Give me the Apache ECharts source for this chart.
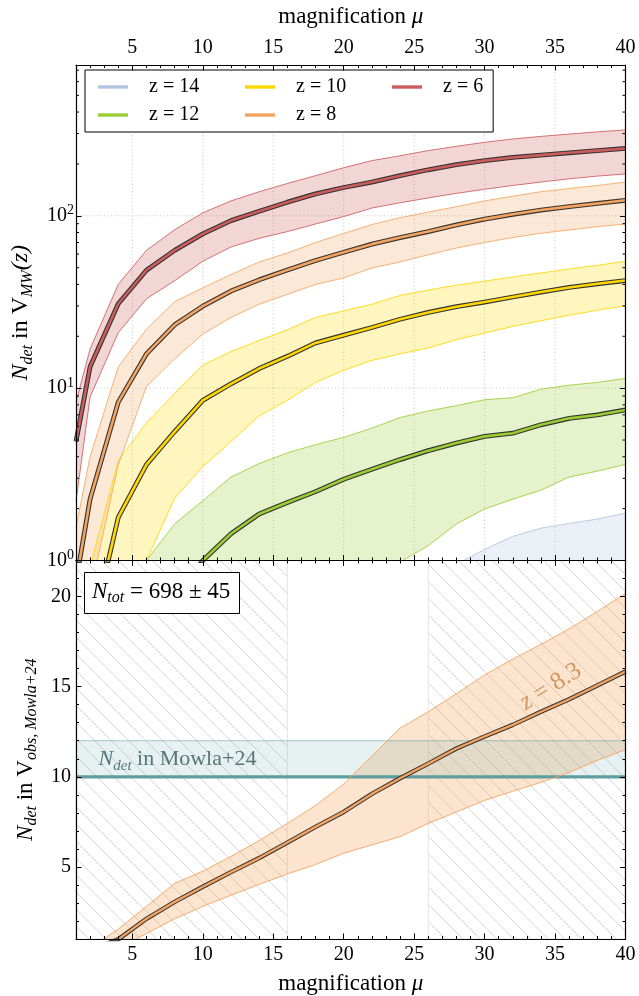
<!DOCTYPE html>
<html><head><meta charset="utf-8">
<script src="https://cdn.jsdelivr.net/npm/echarts@6/dist/echarts.min.js"></script>
<style>html,body{margin:0;padding:0;background:#fff}#c{width:639px;height:996px}</style>
</head><body><div id="c"></div>
<script>
// ---------------- data ----------------
const mu = [1,2,4,6,8,10,12,14,16,18,20,22,24,26,28,30,32,34,36,38,40];

const z6Mid = [4.9,13.3,30.9,48.3,63,78.5,93.8,106.4,120,134,146,157,171,185,198,209,218,225,232,239,246];
const z6Hi  = [8.3,16.9,40,63,83,104,122,138,154,171,190,209,223,239,253,267,279,289,298,307,315];
const z6Lo  = [2.2,8.9,21,33,42,54.5,66,74,81,89.6,99,111,119,127,135,142.5,150,157,164,170,175];

const z8Mid = [0.75,2.27,8.3,15.8,23.3,29.9,36.6,42.5,48.5,55,61.5,68.5,74.8,81,88.5,95.7,102,108,113,118,123];
const z8Hi  = [1.56,4.0,13.3,22,31.7,38.2,45.6,54,60.8,70,79,89,97.5,105,113,122,130,138,144,150,157];
const z8Lo  = [0.35,0.65,3.6,10.2,14.8,20.6,25.7,30.7,35,40,43.6,49.8,54,59.4,65,70,74.8,79.2,82.8,86.5,89.6];

const z10Mid = [0.15,0.35,1.78,3.6,5.6,8.5,10.6,13,15.3,18.3,20.3,22.5,25.1,27.5,29.7,31.6,33.8,36.1,38.4,40.3,42.1];
const z10Hi  = [0.46,0.92,3.8,6.3,9.3,13.6,16.3,18.9,21.8,25.7,28.1,30.7,34.5,37.1,39.6,41.8,44.2,46.6,49.2,51.6,54.5];
const z10Lo  = [0.05,0.1,0.4,1.0,2.3,3.5,4.9,6.9,8.5,10.8,12.7,14.5,15.8,17.1,19.1,20.9,22.8,24.6,26.5,28.3,30];

const z12Mid = [0.02,0.04,0.1,0.25,0.6,1.0,1.43,1.86,2.17,2.51,2.96,3.38,3.85,4.34,4.8,5.25,5.48,6.13,6.68,6.99,7.47];
const z12Hi  = [0.1,0.2,0.5,1.0,1.63,2.22,3.05,3.65,4.21,4.7,5.18,5.86,6.75,7.38,7.91,8.57,8.8,9.87,10.4,10.8,11.4];
const z12Lo  = [0.005,0.01,0.02,0.04,0.08,0.12,0.2,0.3,0.4,0.5,0.65,0.8,0.98,1.22,1.63,1.99,2.27,2.56,3.05,3.3,3.61];

const z14Mid = [0.002,0.004,0.008,0.015,0.025,0.035,0.05,0.07,0.09,0.11,0.14,0.17,0.2,0.24,0.28,0.33,0.38,0.43,0.48,0.52,0.56];
const z14Hi  = [0.01,0.02,0.04,0.07,0.1,0.15,0.2,0.28,0.35,0.45,0.55,0.65,0.75,0.85,0.95,1.16,1.38,1.54,1.64,1.74,1.88];
const z14Lo  = [0.0004,0.0008,0.0015,0.003,0.005,0.007,0.01,0.014,0.018,0.022,0.028,0.034,0.04,0.048,0.056,0.066,0.076,0.086,0.096,0.104,0.112];

const obsMid = [0.1,0.4,0.98,2.12,3.06,3.9,4.71,5.49,6.35,7.22,8.05,9.05,9.92,10.73,11.57,12.24,12.88,13.61,14.3,15.07,15.84];
const obsHi  = [0.2,0.5,1.55,2.81,4.09,4.76,5.58,6.46,7.41,8.41,9.6,11.15,12.7,13.61,14.61,15.65,16.53,17.35,18.21,19.17,20.18];
const obsLo  = [0.02,0.1,0.5,1.3,2.12,2.81,3.43,4.03,4.61,5.13,5.76,6.22,6.68,7.41,8.05,8.69,9.2,9.69,10.24,10.91,11.51];

const mowlaBand = [10, 12];           // N_det in Mowla+24 (value, upper)
const hatchSpans = [[1,16],[26,40]];  // hatched magnification ranges
const z83LabelAt = [34.7, 15.0];
const mowlaLabelAt = [2.6, 10.96];

// ticks
const xMajorTicks = [5,10,15,20,25,30,35,40];
const xMinorTicks = [1,2,3,4,5,6,7,8,9,10,11,12,13,14,15,16,17,18,19,20,21,22,23,24,25,26,27,28,29,30,31,32,33,34,35,36,37,38,39,40];
const xGridValues = [5,10,15,20,25,30,35];
const yLogGridValues = [10,100];
const yLogMinorTicks = [2,3,4,5,6,7,8,9,20,30,40,50,60,70,80,90,200,300,400,500,600,700];
const yLinMajorTicks = [5,10,15,20];
const yLinMinorTicks = [1,2,3,4,5,6,7,8,9,10,11,12,13,14,15,16,17,18,19,20,21,22];

const X_MIN = 1, X_MAX = 40, YT_MIN = 1, YT_MAX = 750, YB_MIN = 1, YB_MAX = 22;

// ---------------- styling ----------------
const F = 'Liberation Serif';
const C = {z14:'#b0c4de', z12:'#9acd32', z10:'#ffd700', z8:'#f4a460', z6:'#cd5c5c'};
function rgba(hex, a){const n=parseInt(hex.slice(1),16);return 'rgba('+(n>>16)+','+((n>>8)&255)+','+(n&255)+','+a+')';}

function richSet(size, color){
  color = color || '#000';
  const sub = Math.round(size*0.68);
  return {
    n:{fontFamily:F, fontWeight:'normal', fontSize:size, lineHeight:size+6, verticalAlign:'middle', color},
    i:{fontFamily:F, fontWeight:'normal', fontStyle:'italic', fontSize:size, lineHeight:size+6, verticalAlign:'middle', color},
    s:{fontFamily:F, fontWeight:'normal', fontStyle:'italic', fontSize:sub, lineHeight:sub, verticalAlign:'bottom', color}
  };
}

// hatch pattern
const hatch = document.createElement('canvas');
hatch.width = 17; hatch.height = 17;
(function(){const g=hatch.getContext('2d');g.strokeStyle='#d6d6d6';g.lineWidth=1;
 [-17,0,17].forEach(o=>{g.beginPath();g.moveTo(o-3,-3);g.lineTo(o+20,20);g.stroke();});})();

function pairs(ys){ return mu.map((x,i)=>[x, ys[i]]); }
function band(lo, hi, fill, xi, yi, z){
  return {type:'custom', xAxisIndex:xi, yAxisIndex:yi, z, silent:true, clip:true,
    data:[[mu[0], hi[0]]],
    renderItem:(params, api)=>{
      const pts=[];
      for(let i=0;i<mu.length;i++) pts.push(api.coord([mu[i], hi[i]]));
      for(let i=mu.length-1;i>=0;i--) pts.push(api.coord([mu[i], lo[i]]));
      return {type:'polygon', shape:{points:pts}, style:{fill}};
    }};
}
function line(name, ys, color, width, xi, yi, z, opacity){
  return {type:'line', name, xAxisIndex:xi, yAxisIndex:yi, data:pairs(ys), symbol:'none', showSymbol:false,
    z, silent:true, clip:true, lineStyle:{color, width, opacity:opacity==null?1:opacity, join:'round'},
    itemStyle:{color}, emphasis:{disabled:true}};
}

const series = [];
// top grid lines
series.push({type:'custom', xAxisIndex:0, yAxisIndex:0, z:0, silent:true, data:xGridValues.map(v=>[v]),
  renderItem:(p,api)=>{const a=api.coord([api.value(0),YT_MAX]), b=api.coord([api.value(0),YT_MIN]);
    return {type:'line', shape:{x1:a[0],y1:a[1],x2:b[0],y2:b[1]}, style:{stroke:'#c4c4c4',lineWidth:1,lineDash:[1,2.5]}};}});
series.push({type:'custom', xAxisIndex:0, yAxisIndex:0, z:0, silent:true, data:yLogGridValues.map(v=>[X_MIN,v]),
  renderItem:(p,api)=>{const a=api.coord([X_MIN,api.value(1)]), b=api.coord([X_MAX,api.value(1)]);
    return {type:'line', shape:{x1:a[0],y1:a[1],x2:b[0],y2:b[1]}, style:{stroke:'#c4c4c4',lineWidth:1,lineDash:[1,2.5]}};}});

const groups = [
  ['z = 14', z14Lo, z14Mid, z14Hi, C.z14],
  ['z = 12', z12Lo, z12Mid, z12Hi, C.z12],
  ['z = 10', z10Lo, z10Mid, z10Hi, C.z10],
  ['z = 8',  z8Lo,  z8Mid,  z8Hi,  C.z8],
  ['z = 6',  z6Lo,  z6Mid,  z6Hi,  C.z6]
];
groups.forEach(g=>{ series.push(band(g[1], g[3], rgba(g[4],0.25), 0, 0, 1)); });
groups.forEach(g=>{
  series.push(line(g[0]+' hi', g[3], g[4], 1, 0, 0, 2, 0.85));
  series.push(line(g[0]+' lo', g[1], g[4], 1, 0, 0, 2, 0.85));
});
groups.forEach(g=>{
  series.push(line(g[0]+' edge', g[2], '#333', 4.8, 0, 0, 3));
  series.push(line(g[0], g[2], g[4], 2.6, 0, 0, 4));
});
// log minor ticks
series.push({type:'custom', xAxisIndex:0, yAxisIndex:0, z:12, silent:true, clip:false,
  data:yLogMinorTicks.map(v=>[X_MIN,v]),
  renderItem:(p,api)=>{const q=api.coord([X_MIN,api.value(1)]); const cs=p.coordSys;
    return {type:'group', children:[
      {type:'line', shape:{x1:cs.x,y1:q[1],x2:cs.x+3,y2:q[1]}, style:{stroke:'#000',lineWidth:1}},
      {type:'line', shape:{x1:cs.x+cs.width,y1:q[1],x2:cs.x+cs.width-3,y2:q[1]}, style:{stroke:'#000',lineWidth:1}}]};}});

// bottom panel
series.push({type:'custom', xAxisIndex:4, yAxisIndex:2, z:1, silent:true, data:hatchSpans,
  renderItem:(p,api)=>{const a=api.coord([api.value(0),YB_MAX]), b=api.coord([api.value(1),YB_MIN]);
    return {type:'rect', shape:{x:a[0],y:a[1],width:b[0]-a[0],height:b[1]-a[1]}, style:{fill:{image:hatch,repeat:'repeat'}, stroke:'#e6e6e6', lineWidth:1}};}});
series.push(band(obsLo, obsHi, rgba(C.z8,0.3), 4, 2, 2));
series.push({type:'custom', xAxisIndex:4, yAxisIndex:2, z:3, silent:true, data:[mowlaBand],
  renderItem:(p,api)=>{const a=api.coord([X_MIN,api.value(1)]), b=api.coord([X_MAX,api.value(0)]);
    return {type:'group', children:[
      {type:'rect', shape:{x:a[0],y:a[1],width:b[0]-a[0],height:b[1]-a[1]}, style:{fill:'rgba(95,158,160,0.15)'}},
      {type:'line', shape:{x1:a[0],y1:a[1],x2:b[0],y2:a[1]}, style:{stroke:'rgba(95,158,160,0.55)',lineWidth:1}},
      {type:'line', shape:{x1:a[0],y1:b[1],x2:b[0],y2:b[1]}, style:{stroke:'#5f9ea0',lineWidth:3.2}}]};}});
series.push(line('obs hi', obsHi, C.z8, 1, 4, 2, 4, 0.9));
series.push(line('obs lo', obsLo, C.z8, 1, 4, 2, 4, 0.9));
series.push(line('obs edge', obsMid, '#333', 4.4, 4, 2, 5));
series.push(line('obs mid', obsMid, C.z8, 2.4, 4, 2, 6));
series.push({type:'scatter', xAxisIndex:4, yAxisIndex:2, z:8, silent:true, symbolSize:1, itemStyle:{color:'rgba(0,0,0,0)'},
  data:[z83LabelAt],
  label:{show:true, position:'inside', rotate:32, align:'center', verticalAlign:'middle',
    formatter:'{i|z}{n| = 8.3}', rich:richSet(25,'#c8823e')}});
series.push({type:'scatter', xAxisIndex:4, yAxisIndex:2, z:8, silent:true, symbolSize:1, itemStyle:{color:'rgba(0,0,0,0)'},
  data:[mowlaLabelAt],
  label:{show:true, position:'inside', align:'left', verticalAlign:'middle',
    formatter:'{i|N}{s|det}{n| in Mowla+24}', rich:richSet(22,'#2f5757')}});

// ---------------- axes ----------------
const AL = {show:true, onZero:false, lineStyle:{color:'#000', width:1.2}};
const TS = {color:'#000', width:1};
const baseX = {type:'value', min:X_MIN, max:X_MAX, splitLine:{show:false}, z:10};
const xLabel = {customValues:xMajorTicks, fontFamily:F, fontSize:20, color:'#000'};
const xName = '{n|magnification }{i|μ}';
const xAxis = [
  Object.assign({}, baseX, {gridIndex:0, position:'top', axisLine:AL,
    axisTick:{inside:true, length:5.5, customValues:xMajorTicks, lineStyle:TS},
    axisLabel:Object.assign({margin:7}, xLabel),
    name:xName, nameLocation:'middle', nameGap:34, nameTextStyle:{rich:richSet(23)}}),
  Object.assign({}, baseX, {gridIndex:0, position:'top', axisLine:{show:false},
    axisTick:{inside:true, length:3, customValues:xMinorTicks, lineStyle:TS}, axisLabel:{show:false}}),
  Object.assign({}, baseX, {gridIndex:0, position:'bottom', axisLine:AL,
    axisTick:{inside:true, length:5.5, customValues:xMajorTicks, lineStyle:TS}, axisLabel:{show:false}}),
  Object.assign({}, baseX, {gridIndex:0, position:'bottom', axisLine:{show:false},
    axisTick:{inside:true, length:3, customValues:xMinorTicks, lineStyle:TS}, axisLabel:{show:false}}),
  Object.assign({}, baseX, {gridIndex:1, position:'bottom', axisLine:AL,
    axisTick:{inside:true, length:5.5, customValues:xMajorTicks, lineStyle:TS},
    axisLabel:Object.assign({margin:6}, xLabel),
    name:xName, nameLocation:'middle', nameGap:30, nameTextStyle:{rich:richSet(23)}}),
  Object.assign({}, baseX, {gridIndex:1, position:'bottom', axisLine:{show:false},
    axisTick:{inside:true, length:3, customValues:xMinorTicks, lineStyle:TS}, axisLabel:{show:false}}),
  Object.assign({}, baseX, {gridIndex:1, position:'top', axisLine:AL,
    axisTick:{inside:true, length:5.5, customValues:xMajorTicks, lineStyle:TS}, axisLabel:{show:false}}),
  Object.assign({}, baseX, {gridIndex:1, position:'top', axisLine:{show:false},
    axisTick:{inside:true, length:3, customValues:xMinorTicks, lineStyle:TS}, axisLabel:{show:false}})
];
const baseLog = {type:'log', logBase:10, min:YT_MIN, max:YT_MAX, gridIndex:0, splitLine:{show:false}, minorTick:{show:false}, z:10};
const baseLin = {type:'value', min:YB_MIN, max:YB_MAX, gridIndex:1, splitLine:{show:false}, z:10};
const supRich = {
  b:{fontFamily:F, fontSize:20, lineHeight:24, verticalAlign:'middle', color:'#000'},
  p:{fontFamily:F, fontSize:14, lineHeight:14, verticalAlign:'top', color:'#000'}
};
const yAxis = [
  Object.assign({}, baseLog, {position:'left', axisLine:AL, axisTick:{inside:true, length:5.5, lineStyle:TS},
    axisLabel:{margin:2, showMaxLabel:false, formatter:v=>'{b|10}{p|'+Math.round(Math.log10(v))+'}', rich:supRich},
    name:'{i|N}{s|det}{n| in V}{s|MW}{i|(z)}', nameLocation:'middle', nameGap:40, nameRotate:90,
    nameTextStyle:{rich:richSet(24)}}),
  Object.assign({}, baseLog, {position:'right', axisLine:AL, axisTick:{inside:true, length:5.5, lineStyle:TS}, axisLabel:{show:false}}),
  Object.assign({}, baseLin, {position:'left', axisLine:AL,
    axisTick:{inside:true, length:5.5, customValues:yLinMajorTicks, lineStyle:TS},
    axisLabel:{customValues:yLinMajorTicks, margin:5, fontFamily:F, fontSize:20, color:'#000'},
    name:'{i|N}{s|det}{n| in V}{s|obs, Mowla+24}', nameLocation:'middle', nameGap:33, nameRotate:90,
    nameTextStyle:{rich:richSet(23)}}),
  Object.assign({}, baseLin, {position:'left', axisLine:{show:false},
    axisTick:{inside:true, length:3, customValues:yLinMinorTicks, lineStyle:TS}, axisLabel:{show:false}}),
  Object.assign({}, baseLin, {position:'right', axisLine:AL,
    axisTick:{inside:true, length:5.5, customValues:yLinMajorTicks, lineStyle:TS}, axisLabel:{show:false}}),
  Object.assign({}, baseLin, {position:'right', axisLine:{show:false},
    axisTick:{inside:true, length:3, customValues:yLinMinorTicks, lineStyle:TS}, axisLabel:{show:false}})
];

const chart = echarts.init(document.getElementById('c'), null, {renderer:'canvas'});
chart.setOption({
  animation:false,
  backgroundColor:'#fff',
  textStyle:{fontFamily:F},
  grid:[
    {left:76, right:13.5, top:59.5, height:501},
    {left:76, right:13.5, top:560.5, bottom:52.7}
  ],
  title:{text:'{i|N}{s|tot}{n| = 698 ± 45}', left:84, top:569, padding:[8,9,8,8],
    borderColor:'#000', borderWidth:1, backgroundColor:'#fff', z:9,
    textStyle:{fontWeight:'normal', rich:richSet(23)}},
  legend:{left:85, top:70, width:420, orient:'horizontal', selectedMode:false, z:9,
    padding:[7,10,7,13], itemGap:8, itemWidth:30, itemHeight:3.4, icon:'rect',
    borderColor:'#000', borderWidth:1, backgroundColor:'#fff',
    textStyle:{fontFamily:F, fontSize:20, color:'#000', width:88, padding:[0,0,0,16], lineHeight:19.6},
    data:[
      {name:'z = 14', itemStyle:{color:C.z14}},
      {name:'z = 10', itemStyle:{color:C.z10}},
      {name:'z = 6',  itemStyle:{color:C.z6}, textStyle:{width:39}},
      {name:'z = 12', itemStyle:{color:C.z12}},
      {name:'z = 8',  itemStyle:{color:C.z8}}
    ]},
  xAxis, yAxis, series
});
</script></body></html>
